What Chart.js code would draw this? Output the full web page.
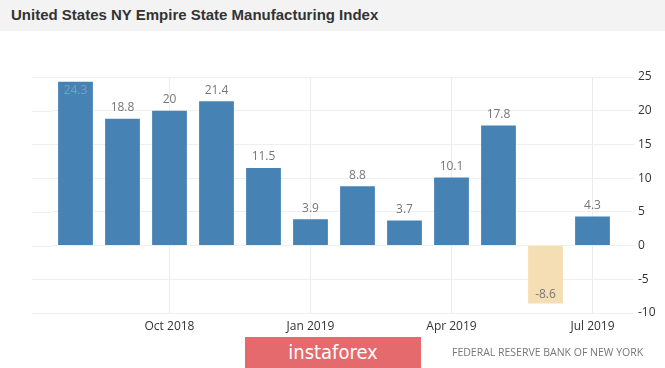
<!DOCTYPE html>
<html>
<head>
<meta charset="utf-8">
<script src="https://cdn.jsdelivr.net/npm/chart.js@4"></script>
<style>
  body { margin: 0; background: #fff; width: 665px; height: 368px; overflow: hidden; position: relative; }
  #naslov { position: absolute; left: 0; top: 0; width: 665px; height: 31px; background: #f3f3f3;
            font: bold 15px "Liberation Sans", Arial, sans-serif; color: #333; line-height: 29px; padding-left: 11px; box-sizing: border-box; }
  #okvir { position: absolute; left: 0; top: 0; width: 665px; height: 368px; }
  #logo { position: absolute; left: 245px; top: 337px; width: 176px; height: 31px; background: #e46a6e;
          color: #fff; font: 20px "DejaVu Sans Condensed", sans-serif; text-align: center; line-height: 30px; }
  #izvor { position: absolute; left: 452px; top: 345px; font: 10.5px "Open Sans", sans-serif; color: #777; }
</style>
</head>
<body>
<div id="naslov">United States NY Empire State Manufacturing Index</div>
<div id="okvir"><canvas id="grafikon" width="665" height="368"></canvas></div>
<div id="logo">instaforex</div>
<div id="izvor">FEDERAL RESERVE BANK OF NEW YORK</div>
<script>
const mjeseci = ['Aug 2018', 'Sep 2018', 'Oct 2018', 'Nov 2018', 'Dec 2018', 'Jan 2019',
                 'Feb 2019', 'Mar 2019', 'Apr 2019', 'May 2019', 'Jun 2019', 'Jul 2019'];
const vrijednosti = [24.3, 18.8, 20, 21.4, 11.5, 3.9, 8.8, 3.7, 10.1, 17.8, -8.6, 4.3];
const prikazaneOznake = ['Oct 2018', 'Jan 2019', 'Apr 2019', 'Jul 2019'];

// horizontalne linije mreze idu malo lijevo od prvog stupca
const produziMrezu = {
    id: 'produziMrezu',
    beforeDatasetsDraw(chart) {
        const ctx = chart.ctx;
        const y = chart.scales.y;
        ctx.save();
        ctx.strokeStyle = '#efefef';
        ctx.lineWidth = 1;
        y.ticks.forEach(t => {
            const py = Math.round(y.getPixelForValue(t.value)) + 0.5;
            ctx.beginPath();
            ctx.moveTo(32, py);
            ctx.lineTo(chart.chartArea.left, py);
            ctx.stroke();
        });
        ctx.restore();
    }
};

const oznakePlugin = {
    id: 'oznake',
    afterDatasetsDraw(chart) {
        const ctx = chart.ctx;
        const area = chart.chartArea;
        const meta = chart.getDatasetMeta(0);
        ctx.save();
        ctx.font = '12px "Open Sans", sans-serif';
        ctx.textAlign = 'center';
        meta.data.forEach((bar, i) => {
            const v = vrijednosti[i];
            let y, baseline, boja = '#777';
            if (v >= 0) {
                if (bar.y - 20 < area.top) { y = bar.y + 3; baseline = 'top'; boja = '#7f9cbc'; }
                else { y = bar.y - 5; baseline = 'bottom'; }
            } else {
                if (bar.y + 20 > area.bottom) { y = bar.y - 3; baseline = 'bottom'; }
                else { y = bar.y + 5; baseline = 'top'; }
            }
            ctx.fillStyle = boja;
            ctx.textBaseline = baseline;
            ctx.fillText(String(v), bar.x, y);
        });
        ctx.restore();
    }
};

const ctx = document.getElementById('grafikon').getContext('2d');
const grafikon = new Chart(ctx, {
    type: 'bar',
    data: {
        labels: mjeseci,
        datasets: [{
            data: vrijednosti,
            backgroundColor: vrijednosti.map(v => v < 0 ? '#f5deb3' : '#4682b4'),
            categoryPercentage: 1,
            barPercentage: 0.74
        }]
    },
    options: {
        responsive: false,
        animation: false,
        layout: { padding: { left: 52, top: 77, right: 10, bottom: 35 } },
        plugins: { legend: { display: false }, tooltip: { enabled: false } },
        scales: {
            x: {
                grid: {
                    offset: false,
                    color: c => prikazaneOznake.includes(mjeseci[c.index]) ? '#ececec' : 'rgba(0,0,0,0)',
                    drawTicks: false
                },
                border: { display: false },
                ticks: {
                    autoSkip: false,
                    maxRotation: 0,
                    padding: 6,
                    color: '#333',
                    font: { family: '"Open Sans", sans-serif', size: 12 },
                    callback: (val, i) => prikazaneOznake.includes(mjeseci[i]) ? mjeseci[i] : ''
                },
                afterFit: s => { s.height = 20; }
            },
            y: {
                position: 'right',
                min: -10,
                max: 25,
                grid: { color: '#efefef', tickLength: 18, tickColor: '#efefef' },
                border: { display: false },
                ticks: {
                    stepSize: 5,
                    padding: 4,
                    color: '#333',
                    font: { family: '"Open Sans", sans-serif', size: 12 }
                },
                afterFit: s => { s.width = 39; }
            }
        }
    },
    plugins: [produziMrezu, oznakePlugin]
});
</script>
</body>
</html>
